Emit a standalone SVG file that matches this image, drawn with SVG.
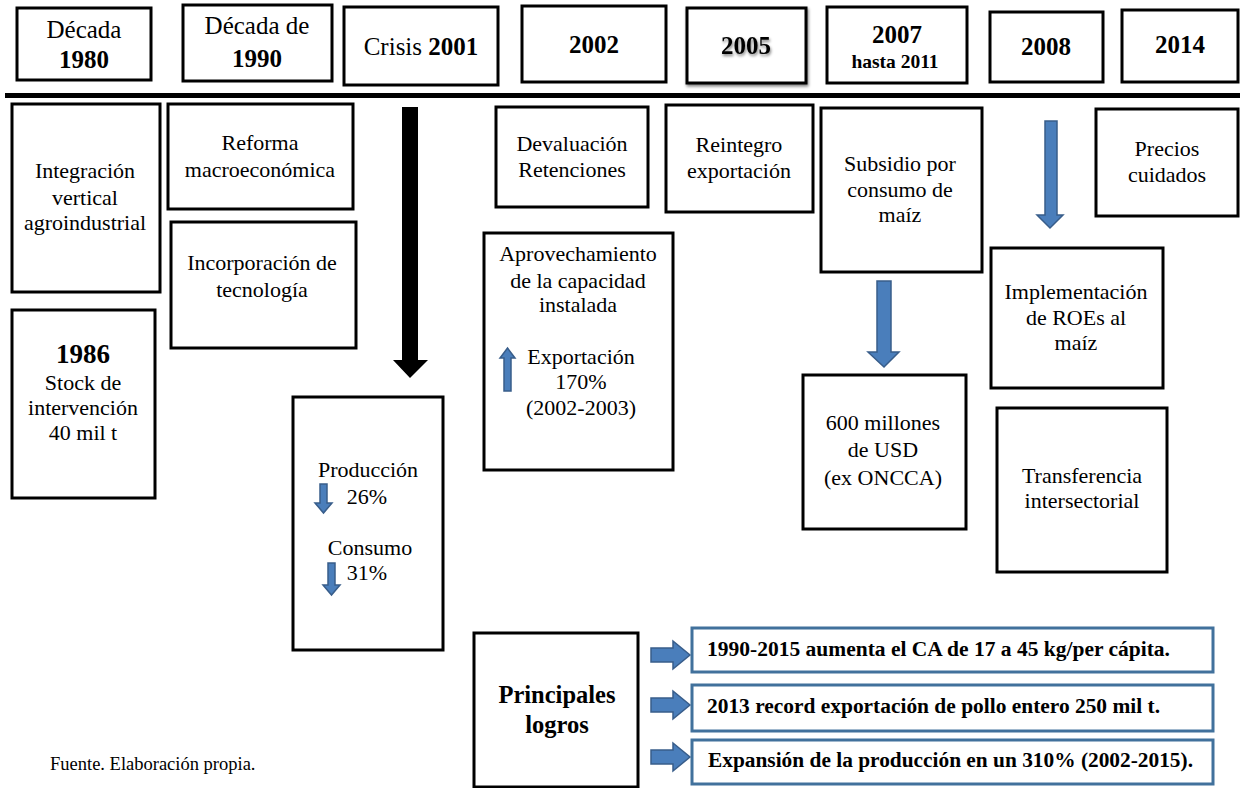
<svg xmlns="http://www.w3.org/2000/svg" width="1240" height="788" viewBox="0 0 1240 788">
<defs>
<filter id="sh" x="-20%" y="-20%" width="140%" height="140%">
<feGaussianBlur in="SourceAlpha" stdDeviation="1.5"/>
<feOffset dx="1" dy="2" result="b"/>
<feComponentTransfer><feFuncA type="linear" slope="0.5"/></feComponentTransfer>
<feMerge><feMergeNode/><feMergeNode in="SourceGraphic"/></feMerge>
</filter>
</defs>
<style>
.box{fill:#fff;stroke:#000;stroke-width:3}
.bbox{fill:#fff;stroke:#41719c;stroke-width:3}
text{fill:#000;text-anchor:middle;font-family:'Liberation Serif',serif}
.h{font-size:25px}
.hb{font-size:25px;font-weight:bold}
.t{font-size:22px}
.b{font-weight:bold}
.ach{font-size:20.5px;font-weight:bold;text-anchor:start}
.blue{fill:#4a7ebb;stroke:#385d8a;stroke-width:1.5}
</style>
<rect width="1240" height="788" fill="#fff"/>

<!-- header -->
<g id="h1980"><rect class="box" x="17" y="8" width="134" height="72"/><text font-family="Liberation Serif" class="h" x="84" y="38">Década</text><text font-family="Liberation Serif" class="hb" x="84" y="68">1980</text></g>
<g id="h1990"><rect class="box" x="183" y="5" width="149" height="76"/><text font-family="Liberation Serif" class="h" x="257" y="34">Década de</text><text font-family="Liberation Serif" class="hb" x="257" y="67">1990</text></g>
<g id="h2001"><rect class="box" x="344" y="7" width="154" height="78"/><text font-family="Liberation Serif" class="h" x="421" y="55">Crisis <tspan font-weight="bold">2001</tspan></text></g>
<g id="h2002"><rect class="box" x="522" y="6" width="144" height="76"/><text font-family="Liberation Serif" class="hb" x="594" y="53">2002</text></g>
<g id="h2005"><rect class="box" x="687" y="8" width="119" height="75" stroke="#222" filter="url(#sh)"/><text font-family="Liberation Serif" class="hb" x="746" y="54" filter="url(#sh)">2005</text></g>
<g id="h2007"><rect class="box" x="827" y="7" width="140" height="76"/><text font-family="Liberation Serif" class="hb" x="897" y="43">2007</text><text font-family="Liberation Serif" class="b" x="895" y="68" font-size="19.5px">hasta 2011</text></g>
<g id="h2008"><rect class="box" x="990" y="12" width="113" height="70"/><text font-family="Liberation Serif" class="hb" x="1046" y="55">2008</text></g>
<g id="h2014"><rect class="box" x="1122" y="10" width="116" height="72"/><text font-family="Liberation Serif" class="hb" x="1180" y="53">2014</text></g>

<rect id="timeline" x="5" y="93" width="1235" height="5" fill="#000"/>

<!-- body nodes -->
<g id="integracion"><rect class="box" x="12" y="104" width="148" height="188"/><text font-family="Liberation Serif" class="t" x="85" y="178">Integración</text><text font-family="Liberation Serif" class="t" x="85" y="205">vertical</text><text font-family="Liberation Serif" class="t" x="85" y="230">agroindustrial</text></g>
<g id="stock1986"><rect class="box" x="12" y="310" width="143" height="188"/><text font-family="Liberation Serif" class="b" x="83" y="363" font-size="27px">1986</text><text font-family="Liberation Serif" class="t" x="83" y="390">Stock de</text><text font-family="Liberation Serif" class="t" x="83" y="415">intervención</text><text font-family="Liberation Serif" class="t" x="83" y="440">40 mil t</text></g>
<g id="reforma"><rect class="box" x="168" y="104" width="185" height="105"/><text font-family="Liberation Serif" class="t" x="260" y="150">Reforma</text><text font-family="Liberation Serif" class="t" x="260" y="177">macroeconómica</text></g>
<g id="incorporacion"><rect class="box" x="171" y="222" width="185" height="126"/><text font-family="Liberation Serif" class="t" x="262" y="270">Incorporación de</text><text font-family="Liberation Serif" class="t" x="262" y="297">tecnología</text></g>
<g id="produccion"><rect class="box" x="293" y="397" width="150" height="253"/>
<text font-family="Liberation Serif" class="t" x="368" y="477">Producción</text><text font-family="Liberation Serif" class="t" x="367" y="504">26%</text>
<text font-family="Liberation Serif" class="t" x="370" y="555">Consumo</text><text font-family="Liberation Serif" class="t" x="367" y="580">31%</text>
<polygon class="blue" points="320,484 327,484 327,503 332,503 323.5,513 315,503 320,503"/>
<polygon class="blue" points="328,563 335,563 335,585 340,585 331.5,595 323,585 328,585"/>
</g>
<g id="devaluacion"><rect class="box" x="496" y="107" width="152" height="100"/><text font-family="Liberation Serif" class="t" x="572" y="151">Devaluación</text><text font-family="Liberation Serif" class="t" x="572" y="177">Retenciones</text></g>
<g id="aprovechamiento"><rect class="box" x="484" y="233" width="189" height="237"/>
<text font-family="Liberation Serif" class="t" x="578" y="261">Aprovechamiento</text><text font-family="Liberation Serif" class="t" x="578" y="288">de la capacidad</text><text font-family="Liberation Serif" class="t" x="578" y="312">instalada</text>
<text font-family="Liberation Serif" class="t" x="581" y="364">Exportación</text><text font-family="Liberation Serif" class="t" x="581" y="389">170%</text><text font-family="Liberation Serif" class="t" x="581" y="415">(2002-2003)</text>
<polygon class="blue" points="504,391 511,391 511,358 515,358 507.5,348 500,358 504,358"/>
</g>
<g id="reintegro"><rect class="box" x="666" y="105" width="147" height="107"/><text font-family="Liberation Serif" class="t" x="739" y="152">Reintegro</text><text font-family="Liberation Serif" class="t" x="739" y="178">exportación</text></g>
<g id="subsidio"><rect class="box" x="821" y="108" width="161" height="164"/><text font-family="Liberation Serif" class="t" x="900" y="171">Subsidio por</text><text font-family="Liberation Serif" class="t" x="900" y="197">consumo de</text><text font-family="Liberation Serif" class="t" x="900" y="222">maíz</text></g>
<g id="millones"><rect class="box" x="803" y="375" width="163" height="154"/><text font-family="Liberation Serif" class="t" x="883" y="430">600 millones</text><text font-family="Liberation Serif" class="t" x="883" y="457">de USD</text><text font-family="Liberation Serif" class="t" x="883" y="485">(ex ONCCA)</text></g>
<g id="precios"><rect class="box" x="1096" y="109" width="142" height="107"/><text font-family="Liberation Serif" class="t" x="1167" y="156">Precios</text><text font-family="Liberation Serif" class="t" x="1167" y="182">cuidados</text></g>
<g id="implementacion"><rect class="box" x="991" y="248" width="172" height="140"/><text font-family="Liberation Serif" class="t" x="1076" y="299">Implementación</text><text font-family="Liberation Serif" class="t" x="1076" y="325">de ROEs al</text><text font-family="Liberation Serif" class="t" x="1076" y="350">maíz</text></g>
<g id="transferencia"><rect class="box" x="997" y="408" width="170" height="164"/><text font-family="Liberation Serif" class="t" x="1082" y="483">Transferencia</text><text font-family="Liberation Serif" class="t" x="1082" y="508">intersectorial</text></g>

<!-- connectors / arrows -->
<g id="connectors">
<polygon fill="#000" points="402,107 418,107 418,360 428,360 410,378 393,360 402,360"/>
<polygon class="blue" points="877,281 891,281 891,352 899,352 884,367 868,352 877,352"/>
<polygon class="blue" points="1045,121 1057,121 1057,215 1063,215 1050,228 1037,215 1045,215"/>
<polygon class="blue" points="651,648 673,648 673,641 690,655 673,669 673,662 651,662"/>
<polygon class="blue" points="651,698 673,698 673,691 690,705 673,719 673,712 651,712"/>
<polygon class="blue" points="651,750 673,750 673,743 690,757 673,771 673,764 651,764"/>
</g>

<!-- achievements -->
<g id="logros"><rect class="box" x="474" y="633" width="164" height="154"/><text font-family="Liberation Serif" class="b" x="557" y="703" font-size="24.5px">Principales</text><text font-family="Liberation Serif" class="b" x="557" y="733" font-size="24.5px">logros</text></g>
<g id="ach1"><rect class="bbox" x="692" y="628" width="521" height="44"/><text font-family="Liberation Serif" class="ach" x="707" y="656" textLength="463" lengthAdjust="spacingAndGlyphs">1990-2015 aumenta el CA de 17 a 45 kg/per cápita.</text></g>
<g id="ach2"><rect class="bbox" x="692" y="685" width="521" height="46"/><text font-family="Liberation Serif" class="ach" x="707" y="713" textLength="453" lengthAdjust="spacingAndGlyphs">2013 record exportación de pollo entero 250 mil t.</text></g>
<g id="ach3"><rect class="bbox" x="692" y="740" width="521" height="44"/><text font-family="Liberation Serif" class="ach" x="708" y="767" textLength="485" lengthAdjust="spacingAndGlyphs">Expansión de la producción en un 310% (2002-2015).</text></g>

<text id="fuente" font-family="Liberation Serif" x="50" y="770" font-size="18.5px" style="text-anchor:start">Fuente. Elaboración propia.</text>
</svg>
